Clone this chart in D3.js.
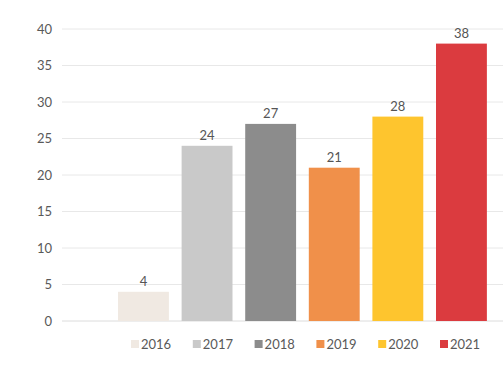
<!DOCTYPE html>
<html>
<head>
<meta charset="utf-8">
<script src="https://cdn.jsdelivr.net/npm/d3@7"></script>
<style>
  body { margin: 0; background: #fff; }
  svg { display: block; font-family: "Lato", "Open Sans", sans-serif; }
</style>
</head>
<body>
<div class="visHolder"></div>
<script>
// chart data
var years = ["2016", "2017", "2018", "2019", "2020", "2021"];
var counts = [4, 24, 27, 21, 28, 38];
var yTicks = [0, 5, 10, 15, 20, 25, 30, 35, 40];
var colors = ["#f0e9e2", "#c9c9c9", "#8c8c8c", "#f0904a", "#fec52e", "#db3b3f"];

var width = 503, height = 386;

var svg = d3.select(".visHolder")
    .append("svg")
    .attr("width", width)
    .attr("height", height);

var y = d3.scaleLinear().domain([0, 40]).range([321, 29]);
var x = d3.scaleBand().domain(years).range([105.3, 499.6]).padding(0.2);

// gridlines
svg.append("g")
    .selectAll("line")
    .data(yTicks)
    .enter()
    .append("line")
    .attr("x1", 62)
    .attr("x2", width)
    .attr("y1", (d) => y(d))
    .attr("y2", (d) => y(d))
    .style("stroke", (d) => d == 0 ? "#dcdcdc" : "#e8e8e8")
    .style("stroke-width", 1);

// y axis labels
var yAxis = svg.append("g")
    .attr("transform", "translate(52,0)")
    .call(d3.axisLeft(y).tickValues(yTicks).tickSize(0).tickPadding(0));
yAxis.select(".domain").remove();
yAxis.selectAll("text")
    .style("font-size", "13px")
    .style("fill", "#595959")
    .style("font-family", "Lato, 'Open Sans', sans-serif");

var data = years.map((d, i) => ({ year: d, value: counts[i], color: colors[i] }));

svg.selectAll(".bar")
    .data(data)
    .enter()
    .append("rect")
    .attr("class", "bar")
    .attr("x", (d) => x(d.year))
    .attr("width", x.bandwidth())
    .attr("y", (d) => y(d.value))
    .attr("height", (d) => y(0) - y(d.value))
    .style("fill", (d) => d.color);

svg.selectAll(".val")
    .data(data)
    .enter()
    .append("text")
    .attr("class", "val")
    .attr("x", (d) => x(d.year) + x.bandwidth() / 2)
    .attr("y", (d) => y(d.value) - 6)
    .style("text-anchor", "middle")
    .style("font-size", "13px")
    .style("fill", "#555555")
    .text((d) => d.value);

// legend
var legend = svg.append("g")
    .attr("id", "legend")
    .selectAll("g")
    .data(data)
    .enter()
    .append("g")
    .attr("transform", (d, i) => `translate(${131 + i * 61.8}, 344)`);

legend.append("rect")
    .attr("x", 0)
    .attr("y", -4)
    .attr("width", 8)
    .attr("height", 8)
    .style("fill", (d) => d.color);

legend.append("text")
    .attr("x", 10)
    .attr("y", 0)
    .attr("dy", "0.35em")
    .style("font-size", "13px")
    .style("fill", "#595959")
    .text((d) => d.year);
</script>
</body>
</html>
